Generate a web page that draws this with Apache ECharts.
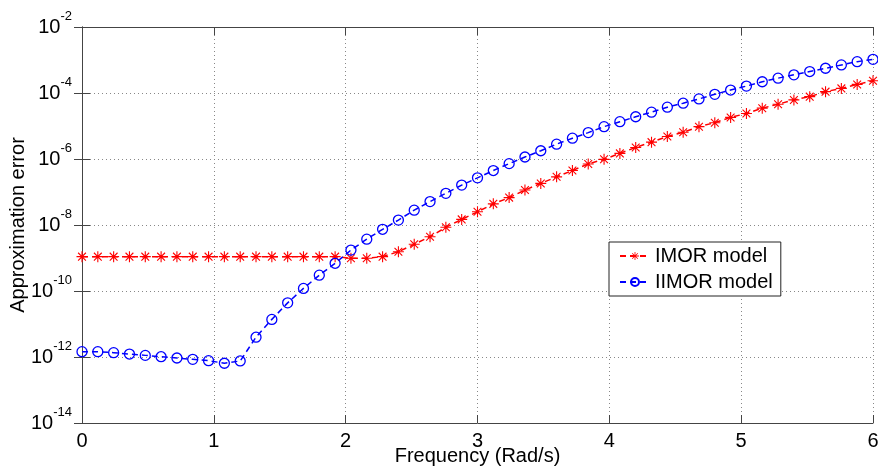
<!DOCTYPE html>
<html>
<head>
  <meta charset="UTF-8">
  <title>Approximation error</title>
  <style>
    * { margin:0; padding:0; }
    body { background: #fff; }
    #chart { width: 878px; height: 473px; }
  </style>
  <script src="https://cdn.jsdelivr.net/npm/echarts@6/dist/echarts.min.js"></script>
</head>
<body>
  <div id="chart"></div>
  <script>
    // frequency grid (Rad/s)
    const freq = [0, 0.12, 0.24, 0.36, 0.48, 0.6, 0.72, 0.84, 0.96, 1.08,
      1.2, 1.32, 1.44, 1.56, 1.68, 1.8, 1.92, 2.04, 2.16, 2.28,
      2.4, 2.52, 2.64, 2.76, 2.88, 3.0, 3.12, 3.24, 3.36, 3.48,
      3.6, 3.72, 3.84, 3.96, 4.08, 4.2, 4.32, 4.44, 4.56, 4.68,
      4.8, 4.92, 5.04, 5.16, 5.28, 5.4, 5.52, 5.64, 5.76, 5.88, 6.0];

    const imorErr = [1.1e-9, 1.1e-9, 1.1e-9, 1.1e-9, 1.1e-9, 1.1e-9, 1.1e-9, 1.1e-9, 1.1e-9, 1.1e-9,
      1.1e-9, 1.1e-9, 1.1e-9, 1.1e-9, 1.1e-9, 1.1e-9, 1.1e-9, 9.8e-10, 9.8e-10, 1.1e-9,
      1.55e-9, 2.6e-9, 4.42e-9, 8.51e-9, 1.48e-8, 2.51e-8, 4.37e-8, 6.76e-8, 1.15e-7, 1.82e-7,
      2.88e-7, 4.47e-7, 7.08e-7, 9.77e-7, 1.48e-6, 2.24e-6, 3.24e-6, 4.79e-6, 6.46e-6, 9.55e-6,
      1.26e-5, 1.82e-5, 2.4e-5, 3.47e-5, 4.57e-5, 6.17e-5, 7.76e-5, 1.1e-4, 1.38e-4, 1.82e-4, 2.34e-4];

    const iimorErr = [1.45e-12, 1.45e-12, 1.35e-12, 1.23e-12, 1.12e-12, 1.02e-12, 9.33e-13, 8.51e-13, 7.76e-13, 6.46e-13,
      7.59e-13, 3.98e-12, 1.38e-11, 4.37e-11, 1.2e-10, 3.02e-10, 6.92e-10, 1.74e-9, 3.72e-9, 7.41e-9,
      1.41e-8, 2.82e-8, 5.13e-8, 9.12e-8, 1.62e-7, 2.69e-7, 4.47e-7, 7.24e-7, 1.15e-6, 1.78e-6,
      2.82e-6, 4.27e-6, 6.31e-6, 9.55e-6, 1.35e-5, 1.91e-5, 2.63e-5, 3.72e-5, 4.9e-5, 6.61e-5,
      9.12e-5, 1.23e-4, 1.62e-4, 2.19e-4, 2.82e-4, 3.55e-4, 4.47e-4, 5.62e-4, 7.08e-4, 8.91e-4, 1.05e-3];

    const seriesNames = ['IMOR model', 'IIMOR model'];

    const font = 'Arial, "Liberation Sans", sans-serif';
    // asterisk marker: + and x bars
    const star = 'path://M0 9L20 9L20 11L0 11Z M9 0L11 0L11 20L9 20Z ' +
      'M3.64 2.22L17.78 16.36L16.36 17.78L2.22 3.64Z M16.36 2.22L17.78 3.64L3.64 17.78L2.22 16.36Z';

    const pair = arr => arr.map((v, i) => [freq[i], v]);

    const chart = echarts.init(document.getElementById('chart'));
    chart.setOption({
      animation: false,
      backgroundColor: '#fff',
      grid: { left: 82, right: 5, top: 27, bottom: 50, containLabel: false, outerBoundsMode: 'none' },
      legend: {
        left: 609, top: 242,
        orient: 'vertical',
        backgroundColor: '#fff',
        borderColor: '#222', borderWidth: 1,
        padding: [4, 8, 4, 10],
        itemWidth: 30, itemHeight: 10, itemGap: 6,
        textStyle: { fontFamily: font, fontSize: 20, color: '#000' },
        data: seriesNames
      },
      xAxis: [{
        type: 'value', min: 0, max: 6, interval: 1,
        name: 'Frequency (Rad/s)', nameLocation: 'middle', nameGap: 23, nameMoveOverlap: false,
        nameTextStyle: { fontFamily: font, fontSize: 20, color: '#000' },
        axisLine: { show: true, onZero: false, lineStyle: { color: '#444' } },
        axisTick: { inside: true, length: 8, lineStyle: { color: '#444' } },
        axisLabel: { fontFamily: font, fontSize: 20, color: '#000', margin: 8 },
        splitLine: { show: true, lineStyle: { type: [1, 3], color: '#888' } }
      }, {
        type: 'value', position: 'top', min: 0, max: 6, interval: 1,
        axisLine: { show: true, lineStyle: { color: '#444' } },
        axisTick: { inside: true, length: 8, lineStyle: { color: '#444' } },
        axisLabel: { show: false },
        splitLine: { show: false }
      }],
      yAxis: [{
        type: 'log', logBase: 10, min: 1e-14, max: 1e-2, interval: 2,
        name: 'Approximation error', nameLocation: 'middle', nameGap: 54, nameMoveOverlap: false,
        nameTextStyle: { fontFamily: font, fontSize: 20, color: '#000' },
        axisLine: { show: true, lineStyle: { color: '#444' } },
        axisTick: { inside: true, length: 8, lineStyle: { color: '#444' } },
        axisLabel: {
          margin: 10,
          formatter: v => '{b|10}{s|' + Math.round(Math.log10(v)) + '}',
          rich: {
            b: { fontFamily: font, fontSize: 20, color: '#000', verticalAlign: 'middle' },
            s: { fontFamily: font, fontSize: 13, color: '#000', verticalAlign: 'middle', padding: [0, 0, 22, 0] }
          }
        },
        splitLine: { show: true, lineStyle: { type: [1, 3], color: '#888' } }
      }, {
        type: 'log', logBase: 10, position: 'right', min: 1e-14, max: 1e-2, interval: 2,
        axisLine: { show: true, lineStyle: { color: '#444' } },
        axisTick: { inside: true, length: 8, lineStyle: { color: '#444' } },
        axisLabel: { show: false },
        splitLine: { show: false }
      }],
      series: [{
        name: seriesNames[0], type: 'line',
        data: pair(imorErr),
        symbol: star, symbolSize: 11,
        itemStyle: { color: '#ff0000' },
        lineStyle: { color: '#ff0000', width: 1.5, type: [6, 4] }
      }, {
        name: seriesNames[1], type: 'line',
        data: pair(iimorErr),
        symbol: 'circle', symbolSize: 10,
        itemStyle: { color: 'rgba(0,0,0,0)', borderColor: '#0000ff', borderWidth: 1.3 },
        lineStyle: { color: '#0000ff', width: 1.5, type: [6, 4] }
      }]
    });
  </script>
</body>
</html>
